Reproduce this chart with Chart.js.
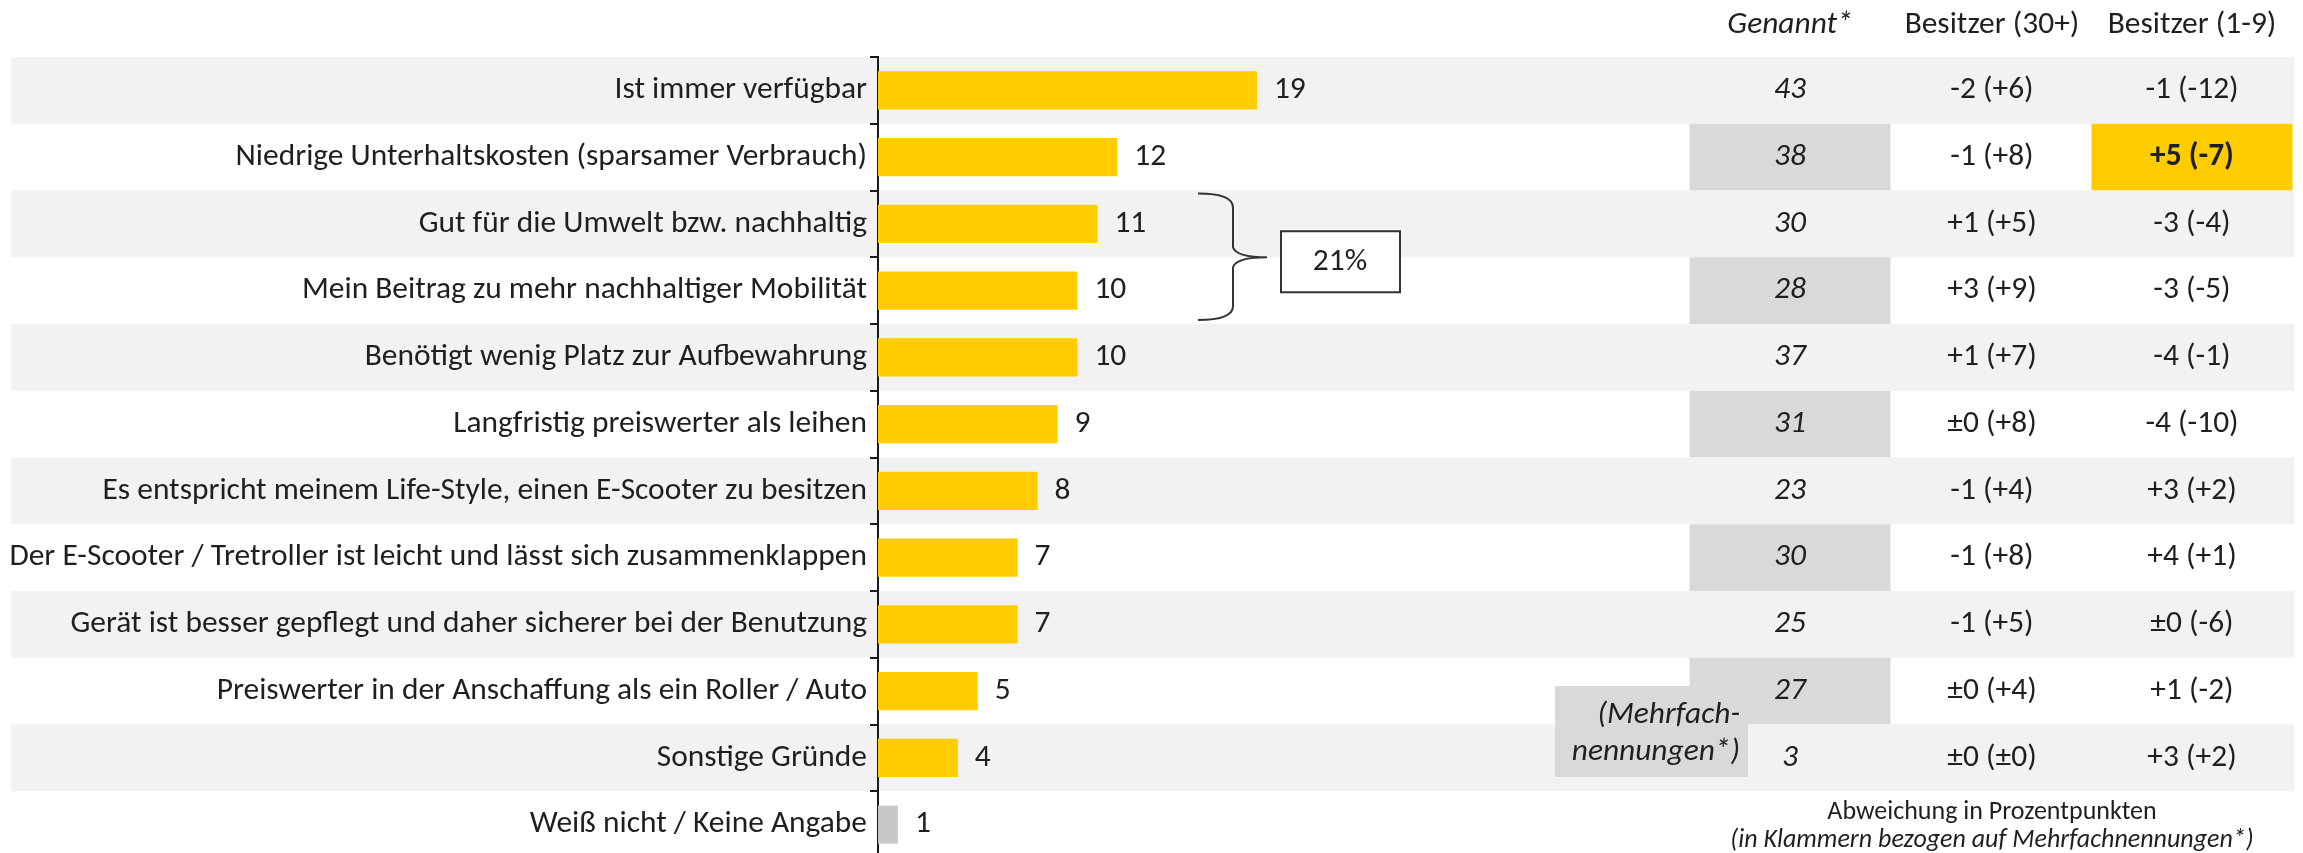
<!DOCTYPE html>
<html><head><meta charset="utf-8">
<script src="https://cdn.jsdelivr.net/npm/chart.js@4"></script>
<style>
html,body{margin:0;padding:0;background:#fff;overflow:hidden}
#wrap{position:relative;width:2303px;height:853px;overflow:hidden}
#box{position:absolute;left:0;top:0;width:2303px;height:862px}
</style></head><body>
<div id="wrap"><div id="box"><canvas id="c"></canvas></div></div>
<script>
const categories = [
  'Ist immer verfügbar',
  'Niedrige Unterhaltskosten (sparsamer Verbrauch)',
  'Gut für die Umwelt bzw. nachhaltig',
  'Mein Beitrag zu mehr nachhaltiger Mobilität',
  'Benötigt wenig Platz zur Aufbewahrung',
  'Langfristig preiswerter als leihen',
  'Es entspricht meinem Life-Style, einen E-Scooter zu besitzen',
  'Der E-Scooter / Tretroller ist leicht und lässt sich zusammenklappen',
  'Gerät ist besser gepflegt und daher sicherer bei der Benutzung',
  'Preiswerter in der Anschaffung als ein Roller / Auto',
  'Sonstige Gründe',
  'Weiß nicht / Keine Angabe'
];
const values = [19, 12, 11, 10, 10, 9, 8, 7, 7, 5, 4, 1];
const genannt = ['43', '38', '30', '28', '37', '31', '23', '30', '25', '27', '3', ''];
const besitzer30 = ['-2 (+6)', '-1 (+8)', '+1 (+5)', '+3 (+9)', '+1 (+7)', '±0 (+8)', '-1 (+4)', '-1 (+8)', '-1 (+5)', '±0 (+4)', '±0 (±0)', ''];
const besitzer19 = ['-1 (-12)', '+5 (-7)', '-3 (-4)', '-3 (-5)', '-4 (-1)', '-4 (-10)', '+3 (+2)', '+4 (+1)', '±0 (-6)', '+1 (-2)', '+3 (+2)', ''];
const headers = ['Genannt*', 'Besitzer (30+)', 'Besitzer (1-9)'];
const groupedRows = [2, 3];
const groupLabel = '21%';
const mehrfachLines = ['(Mehrfach-', 'nennungen*)'];
const noteLines = ['Abweichung in Prozentpunkten', '(in Klammern bezogen auf Mehrfachnennungen*)'];

const FONT = 'Carlito, Calibri, Lato, sans-serif';
const TEXT = '#1f1f1f';
const mctx = document.createElement('canvas').getContext('2d');
function fit(text, target, pre) {
  mctx.font = (pre || '') + ' 100px ' + FONT;
  return 100 * target / mctx.measureText(text).width;
}
const fs = Math.max(20, Math.min(32, fit(categories[7], 858)));
const noteFs = Math.max(16, Math.min(26, fit(noteLines[0], 331)));

const colX = [1790, 1992, 2192];
const colW = 201;

const bgPlugin = {
  id: 'bg',
  beforeDraw(chart) {
    const {ctx, chartArea, scales} = chart;
    const y = scales.y;
    const n = categories.length;
    const h = (chartArea.bottom - chartArea.top) / n;
    ctx.save();
    ctx.fillStyle = '#fff';
    ctx.fillRect(0, 0, chart.width, chart.height);
    for (let i = 0; i < n; i++) {
      const top = y.getPixelForValue(i) - h / 2;
      if (i % 2 === 0) {
        ctx.fillStyle = '#f2f2f2';
        ctx.fillRect(11, top, chartArea.right - 11, h);
      }
      if (i % 2 === 1 && genannt[i] !== '') {
        ctx.fillStyle = '#d9d9d9';
        ctx.fillRect(colX[0] - colW / 2, top, colW, h);
      }
      if (i === 1) {
        ctx.fillStyle = '#FFCC00';
        ctx.fillRect(colX[2] - colW / 2, top, colW, h);
      }
    }
    ctx.restore();
  }
};

const overlayPlugin = {
  id: 'overlay',
  afterDraw(chart) {
    const {ctx, chartArea, scales} = chart;
    const y = scales.y;
    const n = categories.length;
    const h = (chartArea.bottom - chartArea.top) / n;
    const meta = chart.getDatasetMeta(0);
    ctx.save();
    ctx.fillStyle = TEXT;
    ctx.textBaseline = 'middle';
    ctx.textAlign = 'left';
    ctx.font = fs + 'px ' + FONT;
    meta.data.forEach((bar, i) => {
      ctx.fillText(String(values[i]), bar.x + 17, bar.y);
    });
    ctx.textAlign = 'center';
    headers.forEach((t, c) => {
      ctx.font = (c === 0 ? 'italic ' : '') + fs + 'px ' + FONT;
      ctx.fillText(t, colX[c], 25);
    });
    for (let i = 0; i < n; i++) {
      const cy = y.getPixelForValue(i);
      ctx.font = 'italic ' + fs + 'px ' + FONT;
      ctx.fillText(genannt[i], colX[0], cy);
      ctx.font = fs + 'px ' + FONT;
      ctx.fillText(besitzer30[i], colX[1], cy);
      ctx.font = (i === 1 ? 'bold ' : '') + fs + 'px ' + FONT;
      ctx.fillText(besitzer19[i], colX[2], cy);
    }
    ctx.fillStyle = '#d9d9d9';
    ctx.fillRect(1555, 686, 193, 91);
    ctx.fillStyle = TEXT;
    ctx.textAlign = 'right';
    ctx.font = 'italic ' + fs + 'px ' + FONT;
    ctx.fillText(mehrfachLines[0], 1740, 715);
    ctx.fillText(mehrfachLines[1], 1740, 752);
    ctx.textAlign = 'center';
    ctx.font = noteFs + 'px ' + FONT;
    ctx.fillText(noteLines[0], colX[1], 812);
    ctx.font = 'italic ' + noteFs + 'px ' + FONT;
    ctx.fillText(noteLines[1], colX[1], 840);
    const top = y.getPixelForValue(groupedRows[0]) - h / 2 + 3;
    const bot = y.getPixelForValue(groupedRows[1]) + h / 2 - 4;
    const mid = (y.getPixelForValue(groupedRows[0]) + y.getPixelForValue(groupedRows[1])) / 2;
    const x0 = 1198, x1 = 1233, x2 = 1267;
    ctx.strokeStyle = '#333';
    ctx.lineWidth = 2;
    ctx.beginPath();
    ctx.moveTo(x0, top);
    ctx.quadraticCurveTo(x1, top, x1, top + 14);
    ctx.lineTo(x1, mid - 10);
    ctx.quadraticCurveTo(x1 + 3, mid, x2, mid);
    ctx.moveTo(x2, mid);
    ctx.quadraticCurveTo(x1 + 3, mid, x1, mid + 10);
    ctx.lineTo(x1, bot - 14);
    ctx.quadraticCurveTo(x1, bot, x0, bot);
    ctx.stroke();
    ctx.fillStyle = '#fff';
    ctx.fillRect(1281, mid - 26, 119, 61);
    ctx.strokeRect(1281, mid - 26, 119, 61);
    ctx.fillStyle = TEXT;
    ctx.font = fs + 'px ' + FONT;
    ctx.fillText(groupLabel, 1340, mid + 5);
    ctx.restore();
  }
};

new Chart(document.getElementById('c'), {
  type: 'bar',
  data: {
    labels: categories,
    datasets: [{
      data: values,
      backgroundColor: values.map((v, i) => i === values.length - 1 ? '#c8c8c8' : '#FFCC00'),
      barPercentage: 0.57,
      categoryPercentage: 1
    }]
  },
  options: {
    indexAxis: 'y',
    responsive: true,
    maintainAspectRatio: false,
    animation: false,
    layout: {padding: {left: 9, top: 57, right: 9, bottom: 4}},
    plugins: {legend: {display: false}, tooltip: {enabled: false}},
    scales: {
      x: {display: false, min: 0, max: 71},
      y: {
        border: {color: '#1a1a1a', width: 2},
        grid: {drawOnChartArea: false, drawTicks: true, tickLength: 8, color: '#1a1a1a', lineWidth: 2, offset: true},
        ticks: {color: TEXT, font: {family: FONT, size: fs}, padding: 3, autoSkip: false},
        afterFit(s) { s.width = 869; s.paddingTop = 0; s.paddingBottom = 0; }
      }
    }
  },
  plugins: [bgPlugin, overlayPlugin]
});
</script>
</body></html>
